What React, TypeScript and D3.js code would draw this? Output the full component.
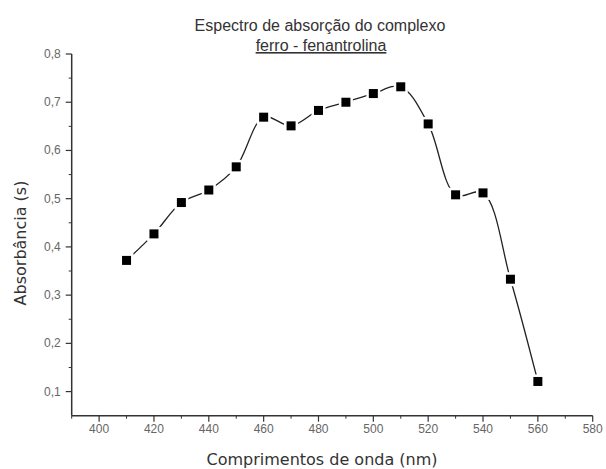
import React from "react";
import * as d3 from "d3";

const wavelengths = [410, 420, 430, 440, 450, 460, 470, 480, 490, 500, 510, 520, 530, 540, 550, 560];
const absorbance = [0.372, 0.427, 0.492, 0.518, 0.566, 0.669, 0.651, 0.683, 0.700, 0.718, 0.732, 0.655, 0.508, 0.512, 0.333, 0.121];
const xMajorTicks = [400, 420, 440, 460, 480, 500, 520, 540, 560, 580];
const xMinorTicks = [390, 410, 430, 450, 470, 490, 510, 530, 550, 570];
const yMajorTicks = [0.1, 0.2, 0.3, 0.4, 0.5, 0.6, 0.7, 0.8];
const yMinorTicks = [0.15, 0.25, 0.35, 0.45, 0.55, 0.65, 0.75];
const titleLines = ["Espectro de absorção do complexo", "ferro - fenantrolina"];
const xTitle = "Comprimentos de onda (nm)";
const yTitle = "Absorbância (s)";

const W = 606;
const H = 469;
const FONT = "'Liberation Sans', Arial, sans-serif";
const FONT2 = "'DejaVu Sans', Verdana, sans-serif";

export default function App() {
  const x = d3.scaleLinear().domain([390, 580]).range([71.7, 592.7]);
  const y = d3.scaleLinear().domain([0.05, 0.8]).range([415.7, 54]);
  const pts: [number, number][] = wavelengths.map((w, i) => [x(w), y(absorbance[i])]);
  const line = d3.line<[number, number]>().x(d => d[0]).y(d => d[1]).curve(d3.curveCatmullRom.alpha(0.5));
  const path = line(pts) || "";
  const axisColor = "#333";
  const labelColor = "#666";
  const x0 = x(390);
  const y0 = y(0.05);
  return (
    <svg width={W} height={H} style={{ position: "absolute", left: 0, top: 0, background: "#fff" }} fontFamily={FONT}>
      <text x={320} y={31} textAnchor="middle" fontSize={16} fill="#333">{titleLines[0]}</text>
      <text x={321} y={51} textAnchor="middle" fontSize={16} fill="#333" textDecoration="underline">{titleLines[1]}</text>

      <line x1={x0} y1={y(0.8)} x2={x0} y2={y0} stroke={axisColor} strokeWidth={1.5} />
      <line x1={x0} y1={y0} x2={x(580)} y2={y0} stroke={axisColor} strokeWidth={1.5} />

      {yMajorTicks.map(t => (
        <g key={"ym" + t}>
          <line x1={x0 - 6} x2={x0} y1={y(t)} y2={y(t)} stroke={axisColor} strokeWidth={1.2} />
          <text x={x0 - 11} y={y(t) + 4} textAnchor="end" fontSize={12} fill={labelColor}>{t.toFixed(1).replace(".", ",")}</text>
        </g>
      ))}
      {yMinorTicks.map(t => (
        <line key={"yn" + t} x1={x0 - 3} x2={x0} y1={y(t)} y2={y(t)} stroke={axisColor} strokeWidth={1} />
      ))}
      {xMajorTicks.map(t => (
        <g key={"xm" + t}>
          <line x1={x(t)} x2={x(t)} y1={y0} y2={y0 + 6} stroke={axisColor} strokeWidth={1.2} />
          <text x={x(t)} y={y0 + 17} textAnchor="middle" fontSize={12} fill={labelColor}>{t}</text>
        </g>
      ))}
      {xMinorTicks.map(t => (
        <line key={"xn" + t} x1={x(t)} x2={x(t)} y1={y0} y2={y0 + 3} stroke={axisColor} strokeWidth={1} />
      ))}

      <text x={322} y={465} textAnchor="middle" fontSize={16} fill="#333" fontFamily={FONT2}>{xTitle}</text>
      <text transform={`translate(26,243) rotate(-90)`} textAnchor="middle" fontSize={16} fill="#333" fontFamily={FONT2}>{yTitle}</text>

      <path d={path} fill="none" stroke="#222" strokeWidth={1.3} />
      {pts.map((p, i) => (
        <rect key={"g" + i} x={p[0] - 7} y={p[1] - 7} width={14} height={14} fill="#fff" />
      ))}
      {pts.map((p, i) => (
        <rect key={"m" + i} x={p[0] - 4.5} y={p[1] - 4.5} width={9} height={9} fill="#000" />
      ))}
    </svg>
  );
}
